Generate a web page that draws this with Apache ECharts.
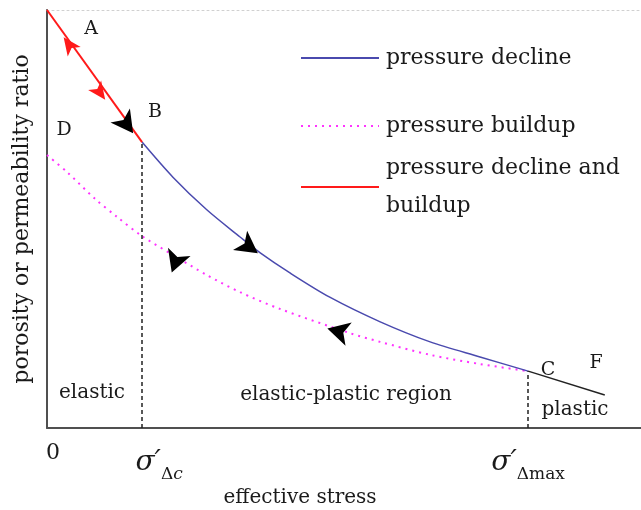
<!DOCTYPE html>
<html>
<head>
<meta charset="utf-8">
<script src="https://cdn.jsdelivr.net/npm/echarts@6/dist/echarts.min.js"></script>
<style>
  html, body { margin: 0; padding: 0; background: #fff; }
  #chart { width: 641px; height: 510px; }
</style>
</head>
<body>
<div id="chart"></div>
<script>
// Effective stress (x) in arbitrary units, porosity / permeability ratio (y) normalised to 1.
const sigmaC = 1.6;    // σ'Δc : end of the elastic range
const sigmaMax = 8.1;  // σ'Δmax : start of the plastic range

const seriesNames = ['pressure decline', 'pressure buildup', 'pressure decline and buildup'];

// elastic branch A–B, travelled on decline and buildup
const elasticX = [0, 1.6];
const elasticY = [1.0, 0.684];

// decline branch B–C
const declineX = [1.60, 2.12, 2.69, 3.25, 3.59, 4.09, 4.76, 5.61, 6.45, 7.29, 8.10];
const declineY = [0.684, 0.600, 0.522, 0.457, 0.419, 0.371, 0.313, 0.254, 0.206, 0.170, 0.136];

// buildup branch C–D
const buildupX = [0.00, 0.34, 0.81, 1.18, 1.60, 2.12, 2.69, 3.25, 3.92, 5.10, 5.61, 6.45, 7.29, 8.10];
const buildupY = [0.653, 0.612, 0.548, 0.505, 0.459, 0.414, 0.366, 0.325, 0.285, 0.227, 0.206, 0.175, 0.153, 0.136];

// plastic branch C–F
const plasticX = [8.10, 9.39];
const plasticY = [0.136, 0.079];

// direction arrows: position on the curves and heading (degrees)
const arrowX = [0.28, 0.98, 1.45, 3.55, 2.10, 4.72];
const arrowY = [0.935, 0.785, 0.705, 0.418, 0.372, 0.238];
const arrowRot = [36, -144, -144, -126, 160, 75];
const arrowColor = ['#ff1a1a', '#ff1a1a', '#000', '#000', '#000', '#000'];

const tickValues = [0, sigmaC, sigmaMax];
const tickLabels = ['{z|0}', '{sc|σ′}{sub|Δ}{subi|c}', '{s|σ′}{sub|Δmax}'];

const zip = (xs, ys) => xs.map((x, i) => [x, ys[i]]);

const SERIF = 'DejaVu Serif';
const chart = echarts.init(document.getElementById('chart'));

const legendBase = {
  orient: 'vertical',
  left: 300,
  padding: 0,
  itemWidth: 78,
  itemHeight: 14,
  itemGap: 0,
  selectedMode: false,
  itemStyle: { color: 'transparent', borderColor: 'transparent', borderWidth: 0 },
  textStyle: { fontFamily: SERIF, fontSize: 22, color: '#1a1a1a', lineHeight: 24, padding: [0, 0, 0, 2] }
};

const txt = (text, x, y, size) => ({
  type: 'text', x, y,
  style: { text, font: size + 'px "' + SERIF + '"', fill: '#1a1a1a', align: 'center', verticalAlign: 'middle' }
});

chart.setOption({
  animation: false,
  grid: { left: 47, right: 0, top: 10, bottom: 82, containLabel: false, outerBoundsMode: 'none' },
  xAxis: [{
    type: 'value', min: 0, max: 10,
    axisLine: { show: true, lineStyle: { color: '#505050', width: 2 } },
    axisTick: { show: false },
    splitLine: { show: false },
    axisLabel: {
      customValues: tickValues,
      margin: 14,
      formatter: (v) => tickLabels[tickValues.indexOf(v)] || '',
      rich: {
        z: { fontFamily: SERIF, fontSize: 22, color: '#1a1a1a', padding: [0, 0, 0, 12] },
        s: { fontFamily: SERIF, fontStyle: 'italic', fontSize: 28, color: '#1a1a1a' },
        sc: { fontFamily: SERIF, fontStyle: 'italic', fontSize: 28, color: '#1a1a1a', padding: [0, 0, 0, 34] },
        sub: { fontFamily: SERIF, fontSize: 17, color: '#1a1a1a', padding: [24, 0, 0, 0] },
        subi: { fontFamily: SERIF, fontStyle: 'italic', fontSize: 17, color: '#1a1a1a', padding: [24, 0, 0, 0] }
      }
    },
    name: 'effective stress',
    nameLocation: 'middle',
    nameGap: 57,
    nameTextStyle: { fontFamily: SERIF, fontSize: 20, color: '#1a1a1a', padding: [0, 88, 0, 0] }
  }, {
    type: 'value', min: 0, max: 10, position: 'top',
    axisLine: { show: true, lineStyle: { color: '#d0d0d0', width: 1, type: [2, 3] } },
    axisTick: { show: false }, axisLabel: { show: false }, splitLine: { show: false }
  }],
  yAxis: {
    type: 'value', min: 0, max: 1,
    axisLine: { show: true, lineStyle: { color: '#505050', width: 2 } },
    axisTick: { show: false }, axisLabel: { show: false }, splitLine: { show: false },
    name: 'porosity or permeability ratio',
    nameLocation: 'middle',
    nameGap: 14,
    nameTextStyle: { fontFamily: SERIF, fontSize: 22, color: '#1a1a1a' }
  },
  legend: [
    Object.assign({}, legendBase, { top: 46, data: [seriesNames[0]] }),
    Object.assign({}, legendBase, { top: 114, data: [seriesNames[1]] }),
    Object.assign({}, legendBase, {
      top: 130,
      data: [{ name: seriesNames[2], textStyle: { lineHeight: 38, padding: [38, 0, 0, 2] } }],
      formatter: () => 'pressure decline and\nbuildup'
    })
  ],
  series: [
    {
      name: seriesNames[0], type: 'line', smooth: 0.3, symbol: 'none',
      data: zip(declineX, declineY),
      lineStyle: { color: '#4a4aae', width: 1.5 }, itemStyle: { color: '#4a4aae' },
      markLine: {
        silent: true, symbol: 'none', label: { show: false },
        lineStyle: { color: '#222', type: [4, 3], width: 1.5 },
        data: [
          [{ coord: [sigmaC, 0] }, { coord: [sigmaC, declineY[0]] }],
          [{ coord: [sigmaMax, 0] }, { coord: [sigmaMax, declineY[declineY.length - 1]] }]
        ]
      },
      z: 3
    },
    {
      name: seriesNames[1], type: 'line', smooth: 0.3, symbol: 'none',
      data: zip(buildupX, buildupY),
      lineStyle: { color: '#ff33ff', width: 2, type: [2, 5] }, itemStyle: { color: '#ff33ff' },
      z: 2
    },
    {
      name: seriesNames[2], type: 'line', symbol: 'none',
      data: zip(elasticX, elasticY),
      lineStyle: { color: '#ff1a1a', width: 2 }, itemStyle: { color: '#ff1a1a' },
      z: 4
    },
    {
      name: 'plastic', type: 'line', symbol: 'none',
      data: zip(plasticX, plasticY),
      lineStyle: { color: '#222', width: 1.5 }, itemStyle: { color: '#222' },
      z: 3
    },
    {
      name: 'arrows', type: 'scatter', silent: true, z: 6,
      symbol: 'arrow',
      data: arrowX.map((x, i) => ({
        value: [x, arrowY[i]],
        symbolRotate: arrowRot[i],
        symbolSize: i < 2 ? [12, 18] : [18, 22],
        itemStyle: { color: arrowColor[i], opacity: 1 }
      }))
    }
  ],
  graphic: [
    txt('A', 91, 29, 19),
    txt('B', 155, 112, 19),
    txt('D', 64, 130, 19),
    txt('C', 548, 370, 19),
    txt('F', 596, 363, 19),
    txt('elastic', 92, 393, 20),
    txt('elastic-plastic region', 346, 395, 20),
    txt('plastic', 575, 410, 20)
  ]
});
</script>
</body>
</html>
